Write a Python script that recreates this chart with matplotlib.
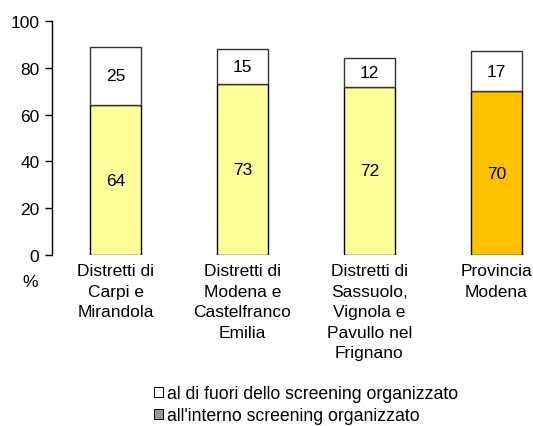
import matplotlib as mpl
import matplotlib.pyplot as plt
from matplotlib.patches import Patch

categories = ["Distretti di\nCarpi e\nMirandola",
              "Distretti di\nModena e\nCastelfranco\nEmilia",
              "Distretti di\nSassuolo,\nVignola e\nPavullo nel\nFrignano",
              "Provincia\nModena"]
inside = [64, 73, 72, 70]
outside = [25, 15, 12, 17]
inside_colors = ["#FFFF99", "#FFFF99", "#FFFF99", "#FFC000"]

mpl.rc('font', family=['Liberation Sans', 'DejaVu Sans'], size=12.5)

fig = plt.figure(figsize=(5.33, 4.27), dpi=100)
ax = fig.add_axes([52 / 533, 171 / 427, 1 - 52 / 533, 234 / 427])

x = list(range(len(categories)))
ax.bar(x, inside, width=0.4, color=inside_colors, edgecolor="black", linewidth=1)
ax.bar(x, outside, width=0.4, bottom=inside, color="white", edgecolor="#333333", linewidth=1)

for i in x:
    ax.text(i, inside[i] / 2, str(inside[i]), ha="center", va="center")
    ax.text(i, inside[i] + outside[i] / 2, str(outside[i]), ha="center", va="center")

ax.set_xlim(-0.5, (533 - 52) / 127 - 0.5)
ax.set_ylim(0, 100)
ax.set_yticks([0, 20, 40, 60, 80, 100])
ax.set_xticks(x)
ax.set_xticklabels(categories, linespacing=1.45)
ax.tick_params(axis="x", length=0, pad=6)
ax.tick_params(axis="y", length=5, width=1, direction="out", pad=4)
for s in ("top", "right", "bottom"):
    ax.spines[s].set_visible(False)
ax.spines["left"].set_linewidth(1)

fig.text(30 / 533, 1 - 283 / 427, "%", ha="center", va="center")

handles = [Patch(facecolor="white", edgecolor="black", linewidth=0.7),
           Patch(facecolor="#999999", edgecolor="black", linewidth=0.7)]
fig.legend(handles, ["al di fuori dello screening organizzato", "all'interno screening organizzato"],
           loc="upper left", bbox_to_anchor=(154 / 533, 1 - 386 / 427), frameon=False,
           fontsize=12.7, handlelength=0.5, handleheight=0.5, handletextpad=0.25, labelspacing=0.3,
           borderaxespad=0, borderpad=0)

fig.savefig("out.png", dpi=100)
